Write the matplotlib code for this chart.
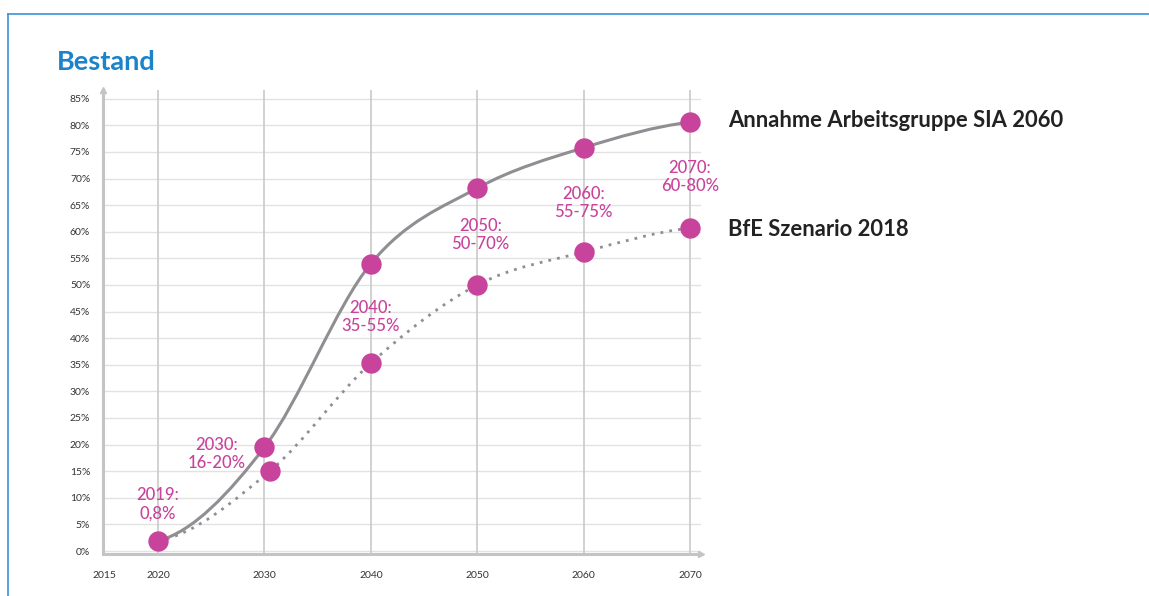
import numpy as np
import matplotlib
matplotlib.use("Agg")
import matplotlib.pyplot as plt
from matplotlib.path import Path
from matplotlib.patches import PathPatch
from matplotlib.lines import Line2D

plt.rcParams['font.family'] = ['Lato', 'DejaVu Sans']

# data
years_sia = [2020, 2030, 2040, 2050, 2060, 2070]
share_sia = [1.9, 19.5, 54.0, 68.2, 75.8, 80.6]
years_bfe = [2020, 2030.5, 2040, 2050, 2060, 2070]
share_bfe = [1.9, 15.0, 35.3, 50.0, 56.2, 60.7]

label_texts = ["2019:\n0,8%", "2030:\n16-20%", "2040:\n35-55%",
               "2050:\n50-70%", "2060:\n55-75%", "2070:\n60-80%"]
label_x = [2020, 2025.5, 2040, 2050.3, 2060, 2070]
label_y = [8.8, 18.2, 43.9, 59.4, 65.4, 70.3]

series_names = ["Annahme Arbeitsgruppe SIA 2060", "BfE Szenario 2018"]
xticks = [2015, 2020, 2030, 2040, 2050, 2060, 2070]
yticks = list(range(0, 90, 5))

MAGENTA = "#c8439b"
LINE_GREY = "#8f8f93"


def smooth_path(xs, ys, start=0.3, end=0.5):
    # cubic hermite through the points, drawn as bezier segments
    xs = np.asarray(xs, float)
    ys = np.asarray(ys, float)
    n = len(xs)
    m = np.zeros(n)
    for i in range(1, n - 1):
        m[i] = (ys[i + 1] - ys[i - 1]) / (xs[i + 1] - xs[i - 1])
    m[0] = start * (ys[1] - ys[0]) / (xs[1] - xs[0])
    m[-1] = end * (ys[-1] - ys[-2]) / (xs[-1] - xs[-2])
    verts = [(xs[0], ys[0])]
    codes = [Path.MOVETO]
    for i in range(n - 1):
        d = (xs[i + 1] - xs[i]) / 3
        verts += [(xs[i] + d, ys[i] + m[i] * d),
                  (xs[i + 1] - d, ys[i + 1] - m[i + 1] * d),
                  (xs[i + 1], ys[i + 1])]
        codes += [Path.CURVE4] * 3
    return Path(verts, codes)


fig = plt.figure(figsize=(11.49, 5.96), dpi=100)
ax = fig.add_axes([0.0894, 0.0705, 0.5204, 0.7785])
ax.set_xlim(2014.8, 2071)
ax.set_ylim(-0.56, 86.65)

# grid
for y in yticks:
    ax.axhline(y, color="#e2e2e2", lw=1.0, zorder=0)
for x in xticks[1:]:
    ax.axvline(x, color="#c9c9c9", lw=1.2, zorder=0)

for s in ["top", "right"]:
    ax.spines[s].set_visible(False)
for s in ["left", "bottom"]:
    ax.spines[s].set_color("#c4c4c4")
    ax.spines[s].set_linewidth(2.2)
ax.plot([0], [1], marker="^", ms=5, color="#c4c4c4", transform=ax.transAxes, clip_on=False)
ax.plot([1], [0], marker=">", ms=5, color="#c4c4c4", transform=ax.transAxes, clip_on=False)

ax.set_xticks(xticks)
ax.set_xticklabels([str(x) for x in xticks])
ax.set_yticks(yticks)
ax.set_yticklabels([f"{y}%" for y in yticks])
ax.tick_params(length=0, labelsize=7.5, colors="#333333", pad=9)
ax.tick_params(axis="x", pad=12)

# curves
ax.add_patch(PathPatch(smooth_path(years_sia, share_sia), fill=False,
                       edgecolor=LINE_GREY, lw=2.2, zorder=2))
ax.add_patch(PathPatch(smooth_path(years_bfe, share_bfe), fill=False,
                       edgecolor=LINE_GREY, lw=2.0, linestyle=(0, (1, 2.2)), zorder=2))

ax.scatter(years_sia, share_sia, s=215, color=MAGENTA, zorder=4, linewidths=0)
ax.scatter(years_bfe[1:], share_bfe[1:], s=215, color=MAGENTA, zorder=4, linewidths=0)

for t, x, y in zip(label_texts, label_x, label_y):
    ax.text(x, y, t, color=MAGENTA, fontsize=12, fontweight="medium", ha="center",
            va="center", linespacing=1.15, zorder=5)

# series names to the right of the end points
ax.text(2073.6, share_sia[-1] + 0.4, series_names[0], fontsize=15.8, fontweight="bold",
        color="#222222", va="center", ha="left", clip_on=False)
ax.text(2073.6, share_bfe[-1] - 0.2, series_names[1], fontsize=15.8, fontweight="bold",
        color="#222222", va="center", ha="left", clip_on=False)

fig.text(57 / 1149, 1 - 62.5 / 596, "Bestand", fontsize=19.5, fontweight="bold",
         color="#1a83c9", va="center", ha="left")

# blue frame
fig.add_artist(Line2D([8 / 1149, 1], [1 - 14 / 596, 1 - 14 / 596], color="#3d92d3",
                      lw=1.2, transform=fig.transFigure))
fig.add_artist(Line2D([8 / 1149, 8 / 1149], [0, 1 - 14 / 596], color="#3d92d3",
                      lw=1.2, transform=fig.transFigure))

fig.savefig("out.png", dpi=100)
